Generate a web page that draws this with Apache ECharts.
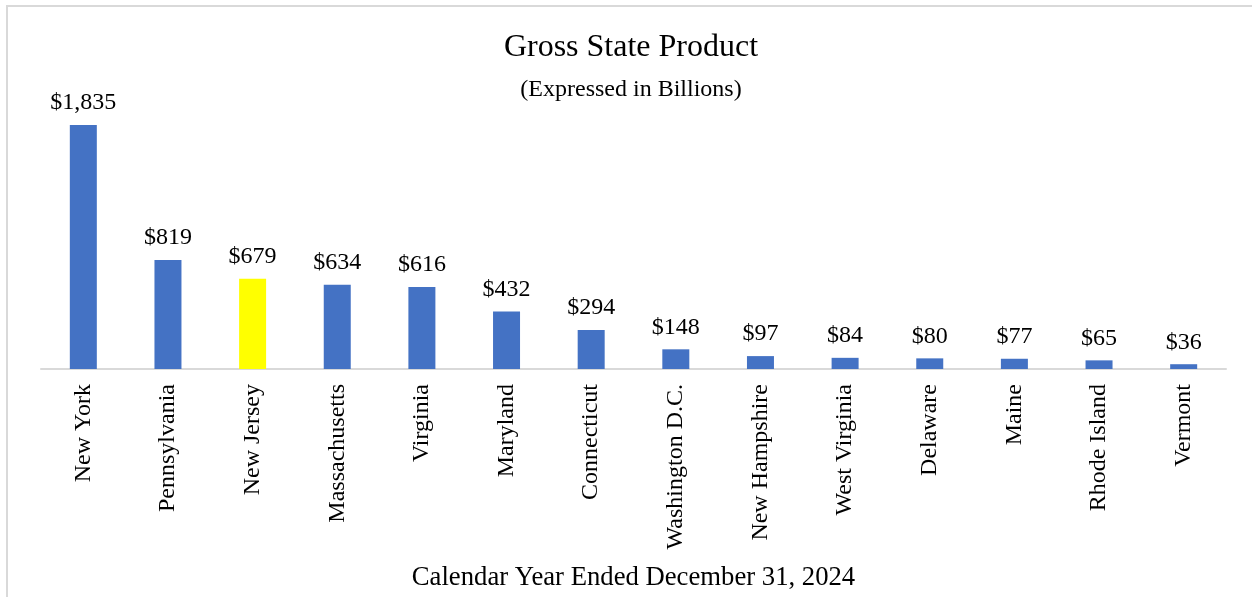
<!DOCTYPE html>
<html>
<head>
<meta charset="utf-8">
<script src="https://cdn.jsdelivr.net/npm/echarts@6/dist/echarts.min.js"></script>
<style>
html,body{margin:0;padding:0;background:#fff;}
#c{width:1252px;height:597px;}
</style>
</head>
<body>
<div id="c"></div>
<script>
const categories = ["New York","Pennsylvania","New Jersey","Massachusetts","Virginia","Maryland","Connecticut","Washington D.C.","New Hampshire","West Virginia","Delaware","Maine","Rhode Island","Vermont"];
const values = [1835, 819, 679, 634, 616, 432, 294, 148, 97, 84, 80, 77, 65, 36];
const highlight = "New Jersey";
const titleText = "Gross State Product";
const subtitleText = "(Expressed in Billions)";
const xAxisName = "Calendar Year Ended December 31, 2024";

const FONT = "'Liberation Serif', 'Times New Roman', serif";
const chart = echarts.init(document.getElementById('c'), null, {renderer: 'canvas'});
chart.setOption({
  animation: false,
  backgroundColor: '#ffffff',
  title: {
    text: titleText,
    subtext: subtitleText,
    left: 626,
    textAlign: 'center',
    top: 27,
    itemGap: 14,
    textStyle: {fontFamily: FONT, fontSize: 32, fontWeight: 'normal', color: '#000'},
    subtextStyle: {fontFamily: FONT, fontSize: 24, color: '#000'}
  },
  graphic: [{
    type: 'rect',
    shape: {x: 7, y: 6, width: 1270, height: 620},
    style: {fill: 'none', stroke: '#d9d9d9', lineWidth: 2},
    silent: true
  }],
  grid: {left: 41, right: 26, top: 103, bottom: 228, containLabel: false},
  xAxis: {
    type: 'category',
    data: categories,
    name: xAxisName,
    nameLocation: 'middle',
    nameGap: 195,
    nameTextStyle: {fontFamily: FONT, fontSize: 26.7, color: '#000'},
    axisLine: {lineStyle: {color: '#d9d9d9', width: 2}},
    axisTick: {show: false},
    axisLabel: {rotate: 90, margin: 15, fontFamily: FONT, fontSize: 24, color: '#000', interval: 0}
  },
  yAxis: {
    type: 'value',
    min: 0, max: 2000,
    show: false,
    splitLine: {show: false}
  },
  series: [{
    type: 'bar',
    barWidth: 27,
    data: values.map((v, i) => ({
      value: v,
      itemStyle: {color: categories[i] === highlight ? '#FFFF00' : '#4472C4'}
    })),
    label: {
      show: true,
      position: 'top',
      distance: 10,
      fontFamily: FONT,
      fontSize: 24,
      color: '#000',
      formatter: p => '$' + p.value.toLocaleString('en-US')
    }
  }]
});
</script>
</body>
</html>
